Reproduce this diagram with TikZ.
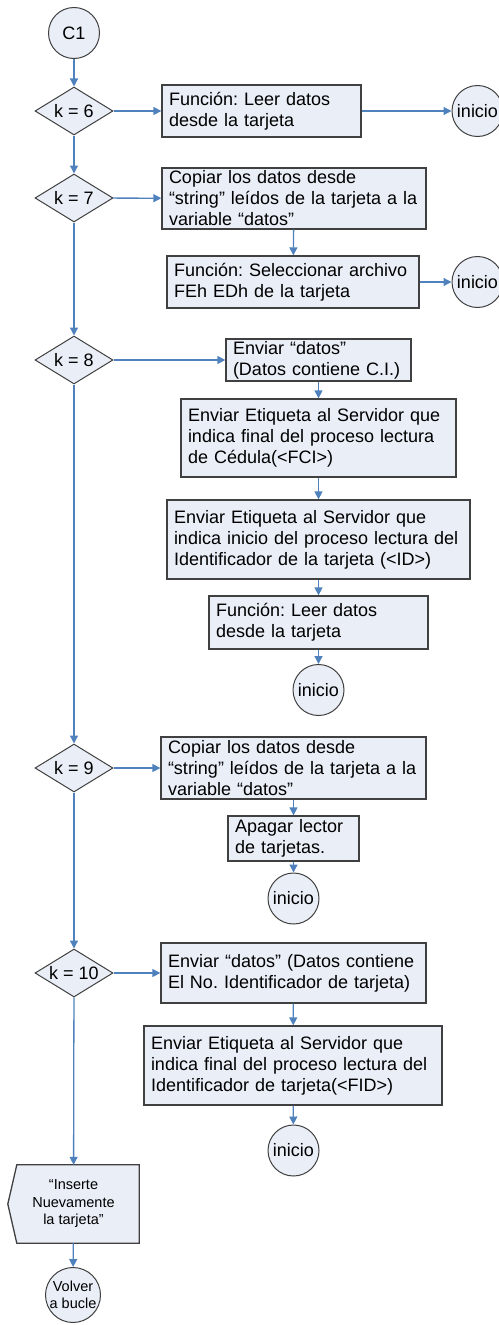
\documentclass[tikz,border=0pt]{standalone}
\usepackage{fontspec}
\setmainfont{Liberation Sans}
\usetikzlibrary{shapes.geometric,arrows.meta,backgrounds}
\frenchspacing

\definecolor{boxfill}{RGB}{233,238,247}
\definecolor{boxline}{RGB}{64,64,64}
\definecolor{flowblue}{RGB}{79,129,189}

\begin{document}
\begin{tikzpicture}[x=1pt,y=-1pt,
    proc/.style 2 args={draw=boxline, fill=boxfill, line width=1.3pt, rectangle,
        inner xsep=7pt, inner ysep=0pt, align=left, text width=#1, minimum height=#2,
        font=\fontsize{18}{21}\selectfont},
    test/.style={draw=boxline, fill=boxfill, line width=1pt, diamond, aspect=1.625,
        minimum width=78pt, minimum height=48pt, inner sep=0pt,
        font=\fontsize{18}{21}\selectfont},
    term/.style={draw=boxline, fill=boxfill, line width=1pt, circle,
        minimum size=51pt, inner sep=0pt, font=\fontsize{18}{21}\selectfont},
    flow/.style={draw=flowblue, line width=1.3pt, -{Triangle[length=8pt,width=8pt]}}]

    \useasboundingbox (0,0) rectangle (498,1325);

    % main column of tests
    \node[term] (c1) at (74,33) {C1};
    \node[test] (k6) at (74,111) {k = 6};
    \node[test] (k7) at (74,198) {k = 7};
    \node[test] (k8) at (74,360) {k = 8};
    \node[test] (k9) at (74,768) {k = 9};
    \node[test] (k10) at (74,973) {k = 10};

    % k = 6
    \node[proc={185pt}{52pt}] (b6) at (261.5,111) {Función: Leer datos\\desde la tarjeta};
    \node[term] (i6) at (477.5,111) {inicio};

    % k = 7
    \node[proc={250pt}{61pt}] (b7a) at (294,198.5)
        {Copiar los datos desde\\“string” leídos de la tarjeta a la\\variable “datos”};
    \node[proc={238pt}{52pt}] (b7b) at (293,282)
        {Función: Seleccionar archivo\\FEh EDh de la tarjeta};
    \node[term] (i7) at (477.5,282) {inicio};

    % k = 8
    \node[proc={171pt}{42pt}] (b8a) at (318.5,360) {Enviar “datos”\\(Datos contiene C.I.)};
    \node[proc={261pt}{78pt}] (b8b) at (318.5,438)
        {Enviar Etiqueta al Servidor que\\indica final del proceso lectura\\de Cédula(<FCI>)};
    \node[proc={289pt}{79pt}] (b8c) at (318.5,539.5)
        {Enviar Etiqueta al Servidor que\\indica inicio del proceso lectura del\\Identificador de la tarjeta (<ID>)};
    \node[proc={205pt}{53pt}] (b8d) at (318.5,622.5) {Función: Leer datos\\desde la tarjeta};
    \node[term] (i8) at (318.5,690) {inicio};

    % k = 9
    \node[proc={251pt}{62pt}] (b9a) at (293.5,768)
        {Copiar los datos desde\\“string” leídos de la tarjeta a la\\variable “datos”};
    \node[proc={117pt}{45pt}] (b9b) at (293.5,838.5) {Apagar lector\\de tarjetas.};
    \node[term] (i9) at (293.5,898.5) {inicio};

    % k = 10
    \node[proc={251pt}{60pt}] (b10a) at (293.5,973)
        {Enviar “datos” (Datos contiene\\El No. Identificador de tarjeta)};
    \node[proc={284pt}{79pt}] (b10b) at (293,1065.5)
        {Enviar Etiqueta al Servidor que\\indica final del proceso lectura del\\Identificador de tarjeta(<FID>)};
    \node[term] (i10) at (293.5,1150.5) {inicio};

    % no match: display and loop back
    \node[minimum width=131pt, minimum height=78pt, inner sep=0pt, align=center,
        font=\fontsize{14.5}{17.5}\selectfont] (ins) at (73.5,1204)
        {“Inserte\\Nuevamente\\la tarjeta”};
    \begin{scope}[on background layer]
        \draw[boxline, fill=boxfill, line width=1.3pt]
            ([xshift=9pt]ins.north west) -- (ins.north east) -- (ins.south east)
            -- ([xshift=9pt]ins.south west) -- (ins.west) -- cycle;
    \end{scope}
    \node[term, minimum size=55pt, align=center, font=\fontsize{14.5}{17}\selectfont]
        (volver) at (73,1295) {Volver\\a bucle};

    % connectors
    \foreach \a/\b in {c1/k6, k6/k7, k7/k8, k8/k9, k9/k10, k10/ins, ins/volver,
                       k6/b6, b6/i6, k7/b7a, b7a/b7b, b7b/i7,
                       k8/b8a, b8a/b8b, b8b/b8c, b8c/b8d, b8d/i8,
                       k9/b9a, b9a/b9b, b9b/i9,
                       k10/b10a, b10a/b10b, b10b/i10}
        \draw[flow] (\a) -- (\b);

\end{tikzpicture}
\end{document}
